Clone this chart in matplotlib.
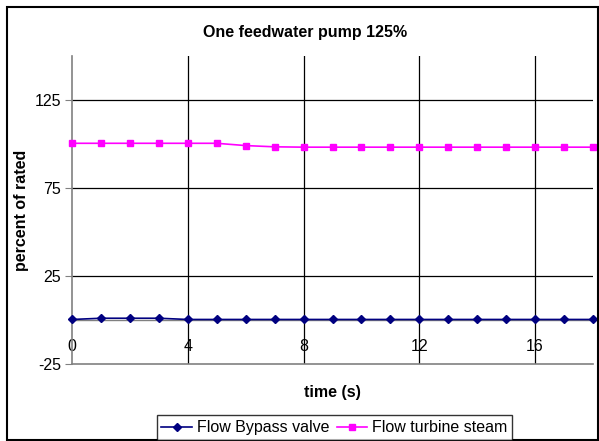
import numpy as np
import matplotlib
matplotlib.use("Agg")
import matplotlib.pyplot as plt
from matplotlib.patches import Rectangle

plt.rcParams['font.family'] = ['Liberation Sans', 'DejaVu Sans']
plt.rcParams['axes.unicode_minus'] = False

time_s = [0, 1, 2, 3, 4, 5, 6, 7, 8, 9, 10, 11, 12, 13, 14, 15, 16, 17, 18]
bypass_flow = [0.3, 1.0, 1.0, 1.0, 0.3, 0.3, 0.3, 0.3, 0.3, 0.3, 0.3,
               0.3, 0.3, 0.3, 0.3, 0.3, 0.3, 0.3, 0.3]
turbine_flow = [100.4, 100.4, 100.4, 100.4, 100.4, 100.4, 99.1, 98.4, 98.2, 98.2,
                98.2, 98.2, 98.2, 98.2, 98.2, 98.2, 98.2, 98.2, 98.2]
x_ticks = [0, 4, 8, 12, 16]
y_ticks = [-25, 25, 75, 125]

W, H = 599, 441
FS = 11.5
fig = plt.figure(figsize=(W / 100, H / 100), dpi=100)
ax = fig.add_axes([72 / W, 1 - 364 / H, (593 - 72) / W, (364 - 56) / H])

ax.set_xlim(0, 18)
ax.set_ylim(-25, 150)

# grid
for yt in y_ticks[1:]:
    ax.axhline(yt, color='black', lw=0.9, zorder=1)
for xt in x_ticks[1:]:
    ax.axvline(xt, color='black', lw=0.9, zorder=1)
ax.axhline(-25, color='#808080', lw=1.2, zorder=2, clip_on=False)

ax.plot(time_s, bypass_flow, color='#000080', marker='D', markersize=4.2,
        lw=1.2, label='Flow Bypass valve', zorder=4, clip_on=False)
ax.plot(time_s, turbine_flow, color='#FF00FF', marker='s', markersize=5,
        lw=1.2, label='Flow turbine steam', zorder=4, clip_on=False)

# axes styling (excel-like)
ax.spines['top'].set_visible(False)
ax.spines['right'].set_visible(False)
ax.spines['left'].set_color('#808080')
ax.spines['left'].set_linewidth(1.2)
ax.spines['bottom'].set_position(('data', 0))
ax.spines['bottom'].set_color('#808080')
ax.spines['bottom'].set_linewidth(1.0)

ax.set_yticks(y_ticks)
ax.set_xticks(x_ticks)
ax.tick_params(axis='y', length=5, color='#808080', labelsize=FS, pad=3)
ax.tick_params(axis='x', length=0, labelsize=FS, pad=14)

fig.text(305 / W, 1 - 32 / H, 'One feedwater pump 125%', ha='center', va='center',
         fontsize=FS, fontweight='bold')
fig.text(332 / W, 1 - 393 / H, 'time (s)', ha='center', va='center',
         fontsize=FS, fontweight='bold')
fig.text(22 / W, 1 - 210 / H, 'percent of rated', ha='center', va='center',
         rotation=90, fontsize=FS, fontweight='bold')

leg = fig.legend(loc='lower center', bbox_to_anchor=(334.5 / W, 1 / H), ncol=2,
                 fontsize=FS, frameon=True, fancybox=False, borderpad=0.3,
                 handlelength=1.9, columnspacing=0.5, handletextpad=0.3,
                 borderaxespad=0)
leg.get_frame().set_edgecolor('black')
leg.get_frame().set_linewidth(1.0)

fig.patches.append(Rectangle((7 / W, 1 / H), (598 - 7) / W, (434 - 1) / H,
                             transform=fig.transFigure, fill=False,
                             edgecolor='black', lw=1.5))

fig.savefig('out.png', dpi=100)
